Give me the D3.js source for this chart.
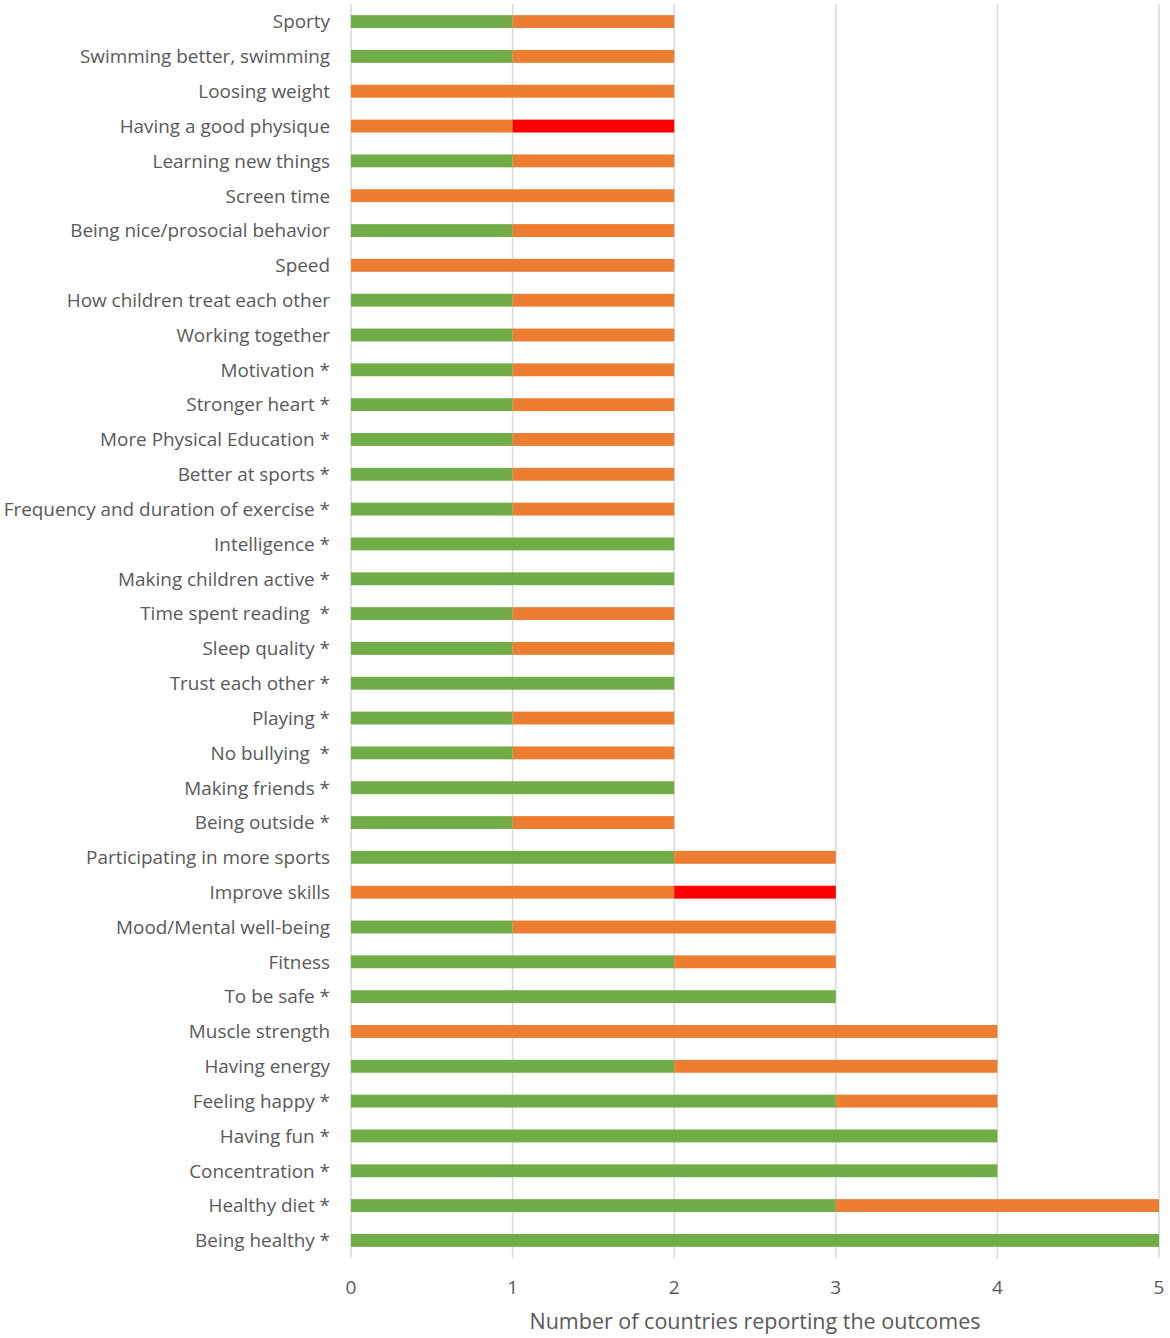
<!DOCTYPE html>
<html>
<head>
<meta charset="utf-8">
<script src="https://cdn.jsdelivr.net/npm/d3@7"></script>
<style>
  body { margin: 0; background: #fff; }
  text { font-family: "Open Sans", "Noto Sans", sans-serif; fill: #595959; }
</style>
</head>
<body>
<script>
// outcome categories, top to bottom
var categories = [
  "Sporty", "Swimming better, swimming", "Loosing weight", "Having a good physique",
  "Learning new things", "Screen time", "Being nice/prosocial behavior", "Speed",
  "How children treat each other", "Working together", "Motivation *", "Stronger heart *",
  "More Physical Education *", "Better at sports *", "Frequency and duration of exercise *",
  "Intelligence *", "Making children active *", "Time spent reading  *", "Sleep quality *",
  "Trust each other *", "Playing *", "No bullying  *", "Making friends *", "Being outside *",
  "Participating in more sports", "Improve skills", "Mood/Mental well-being", "Fitness",
  "To be safe *", "Muscle strength", "Having energy", "Feeling happy *", "Having fun *",
  "Concentration *", "Healthy diet *", "Being healthy *"
];

// series values (green, orange, red), same order as categories
var greenVals  = [1,1,0,0,1,0,1,0,1,1,1,1,1,1,1,2,2,1,1,2,1,1,2,1,2,0,1,2,3,0,2,3,4,4,3,5];
var orangeVals = [1,1,2,1,1,2,1,2,1,1,1,1,1,1,1,0,0,1,1,0,1,1,0,1,1,2,2,1,0,4,2,1,0,0,2,0];
var redVals    = [0,0,0,1,0,0,0,0,0,0,0,0,0,0,0,0,0,0,0,0,0,0,0,0,0,1,0,0,0,0,0,0,0,0,0,0];

var xTicks = [0, 1, 2, 3, 4, 5];
var xTitle = "Number of countries reporting the outcomes";

var w = 1170, h = 1338;
var margin = {left: 351, right: 11, top: 4, bottom: 80};

var svg = d3.select("body").append("svg")
  .attr("width", w)
  .attr("height", h);

var x = d3.scaleLinear()
  .domain([0, 5])
  .range([margin.left, w - margin.right]);

var y = d3.scaleBand()
  .domain(categories)
  .range([margin.top, h - margin.bottom])
  .paddingInner(0.63)
  .paddingOuter(0.32);

// gridlines
svg.append("g").selectAll("line")
  .data(xTicks)
  .enter().append("line")
  .attr("x1", function(d){ return x(d); })
  .attr("x2", function(d){ return x(d); })
  .attr("y1", margin.top)
  .attr("y2", h - margin.bottom)
  .style("stroke", "#d9d9d9")
  .style("stroke-width", 1.5);

// stacked data
var rows = categories.map(function(c, i){
  return {cat: c, green: greenVals[i], orange: orangeVals[i], red: redVals[i]};
});
var stack = d3.stack().keys(["green", "orange", "red"])(rows);
var colors = {green: "#70ad47", orange: "#ed7d31", red: "#ff0000"};

svg.append("g").selectAll("g")
  .data(stack)
  .enter().append("g")
  .style("fill", function(s){ return colors[s.key]; })
  .selectAll("rect")
  .data(function(s){ return s; })
  .enter().append("rect")
  .attr("x", function(d){ return x(d[0]); })
  .attr("width", function(d){ return x(d[1]) - x(d[0]); })
  .attr("y", function(d){ return y(d.data.cat); })
  .attr("height", y.bandwidth());

// category labels
svg.append("g").selectAll("text")
  .data(categories)
  .enter().append("text")
  .attr("x", margin.left - 21)
  .attr("y", function(d){ return y(d) + y.bandwidth() / 2; })
  .attr("dy", "0.36em")
  .attr("text-anchor", "end")
  .style("font-size", "18.9px")
  .style("white-space", "pre")
  .text(function(d){ return d; });

// tick labels
svg.append("g").selectAll("text")
  .data(xTicks)
  .enter().append("text")
  .attr("x", function(d){ return x(d); })
  .attr("y", 1294)
  .attr("text-anchor", "middle")
  .style("font-size", "19px")
  .text(function(d){ return d; });

svg.append("text")
  .attr("x", 755)
  .attr("y", 1329)
  .attr("text-anchor", "middle")
  .style("font-size", "21.5px")
  .text(xTitle);
</script>
</body>
</html>
